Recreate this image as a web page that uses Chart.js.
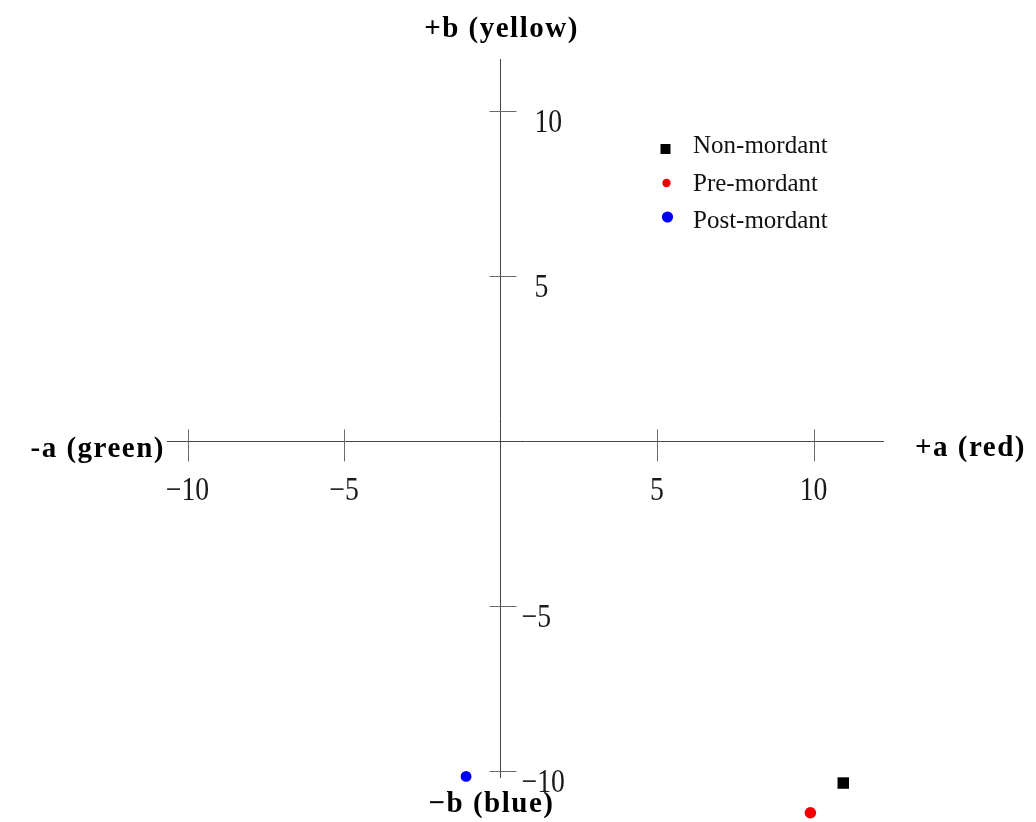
<!DOCTYPE html>
<html>
<head>
<meta charset="utf-8">
<script src="https://cdn.jsdelivr.net/npm/chart.js@4.4.1/dist/chart.umd.min.js"></script>
<style>
  html, body { margin: 0; padding: 0; background: #fff; }
  #wrap { width: 1036px; height: 822px; position: relative; }
</style>
</head>
<body>
<div id="wrap"><canvas id="c"></canvas></div>
<script>
// CIELAB a*/b* coordinates of the dyed samples
const seriesNames = ['Non-mordant', 'Pre-mordant', 'Post-mordant'];
const aValues = [10.95, 9.9, -1.1];
const bValues = [-10.35, -11.25, -10.15];

// tick values shown on each axis
const aTicks = [-10, -5, 5, 10];
const bTicks = [-10, -5, 5, 10];

// names written at the ends of the axes
const axisNames = {
  posA: '+a (red)',
  negA: '-a (green)',
  posB: '+b (yellow)',
  negB: '\u2212b (blue)'
};

const seriesColors = ['#000000', '#f00000', '#0000f0'];
const seriesStyles = ['rect', 'circle', 'circle'];
const seriesRadius = [8.1, 5.8, 5.4];
const legendRadius = [7.07, 4.2, 5.6];

const datasets = seriesNames.map((name, i) => ({
  label: name,
  data: [{ x: aValues[i], y: bValues[i] }],
  pointStyle: seriesStyles[i],
  pointRadius: seriesRadius[i],
  pointHoverRadius: seriesRadius[i],
  backgroundColor: seriesColors[i],
  borderColor: seriesColors[i],
  borderWidth: 0,
  clip: false
}));

const fmtTick = v => (v < 0 ? '\u2212' + Math.abs(v) : String(v));

// the samples sit past the ends of the axis lines, so let the points
// draw over the whole canvas while the datasets are painted
const wholeCanvasPoints = {
  id: 'wholeCanvasPoints',
  beforeDatasetsDraw(chart) {
    chart.$axisArea = chart.chartArea;
    chart.chartArea = { left: 0, top: 0, right: chart.width, bottom: chart.height, width: chart.width, height: chart.height };
  },
  afterDatasetsDraw(chart) {
    if (chart.$axisArea) chart.chartArea = chart.$axisArea;
  }
};

// crossing tick marks, numbers, axis names and the legend
const axisDecor = {
  id: 'axisDecor',
  afterDraw(chart) {
    const { ctx, chartArea, scales: { x, y } } = chart;
    const x0 = x.getPixelForValue(0);
    const y0 = y.getPixelForValue(0);
    ctx.save();

    ctx.strokeStyle = '#6a6a6a';
    ctx.lineWidth = 1;
    ctx.beginPath();
    x.ticks.forEach(t => {
      const px = Math.round(x.getPixelForValue(t.value)) + 0.5;
      ctx.moveTo(px, y0 - 12);
      ctx.lineTo(px, y0 + 20);
    });
    y.ticks.forEach(t => {
      const py = Math.round(y.getPixelForValue(t.value)) + 0.5;
      ctx.moveTo(x0 - 11, py);
      ctx.lineTo(x0 + 16, py);
    });
    ctx.stroke();

    // tick numbers (tall, narrow serif digits)
    ctx.fillStyle = '#1a1a1a';
    ctx.font = '33px "Liberation Serif"';
    ctx.textBaseline = 'alphabetic';
    const squeeze = 0.84;
    const drawNarrow = (txt, px, py, align) => {
      ctx.save();
      ctx.translate(px, py);
      ctx.scale(squeeze, 1);
      ctx.textAlign = align;
      ctx.fillText(txt, 0, 0);
      ctx.restore();
    };
    x.ticks.forEach(t => drawNarrow(fmtTick(t.value), x.getPixelForValue(t.value), y0 + 59, 'center'));
    y.ticks.forEach(t => drawNarrow(fmtTick(t.value), x0 + (t.value < 0 ? 21 : 34), y.getPixelForValue(t.value) + 21, 'left'));

    // axis names
    ctx.font = 'bold 29px "Liberation Serif"';
    ctx.letterSpacing = '1.5px';
    ctx.fillStyle = '#000';
    ctx.textAlign = 'center';
    ctx.fillText(axisNames.posB, x0 + 1, chartArea.top - 22);
    ctx.fillText(axisNames.negB, x0 - 9, chartArea.bottom + 35);
    ctx.textAlign = 'right';
    ctx.fillText(axisNames.negA, chartArea.left - 2, y0 + 16);
    ctx.textAlign = 'left';
    ctx.fillText(axisNames.posA, chartArea.right + 32, y0 + 15);

    // legend
    ctx.letterSpacing = '0px';
    ctx.font = '25px "Liberation Serif"';
    ctx.textAlign = 'left';
    chart.data.datasets.forEach((ds, i) => {
      const base = 153 + 37.5 * i;
      ctx.fillStyle = ds.backgroundColor;
      Chart.helpers.drawPoint(ctx, { pointStyle: ds.pointStyle, radius: legendRadius[i], borderWidth: 0 }, 665.5 + i, base - 4 - 3.5 * i);
      ctx.fillStyle = '#111';
      ctx.fillText(ds.label, 693, base);
    });

    ctx.restore();
  }
};

new Chart(document.getElementById('c'), {
  type: 'scatter',
  data: { datasets },
  options: {
    responsive: true,
    maintainAspectRatio: false,
    animation: false,
    layout: { padding: { left: 167, right: 153, top: 59, bottom: 45 } },
    plugins: { legend: { display: false }, tooltip: { enabled: false } },
    scales: {
      x: {
        type: 'linear',
        min: -10.655,
        max: 12.22,
        position: { y: 0 },
        grid: { display: false },
        border: { display: true, color: '#444', width: 1 },
        ticks: { display: false },
        afterBuildTicks: s => { s.ticks = aTicks.map(v => ({ value: v })); }
      },
      y: {
        type: 'linear',
        min: -10.167,
        max: 11.59,
        position: { x: 0 },
        grid: { display: false },
        border: { display: true, color: '#444', width: 1 },
        ticks: { display: false },
        afterBuildTicks: s => { s.ticks = bTicks.map(v => ({ value: v })); }
      }
    }
  },
  plugins: [wholeCanvasPoints, axisDecor]
});
</script>
</body>
</html>
